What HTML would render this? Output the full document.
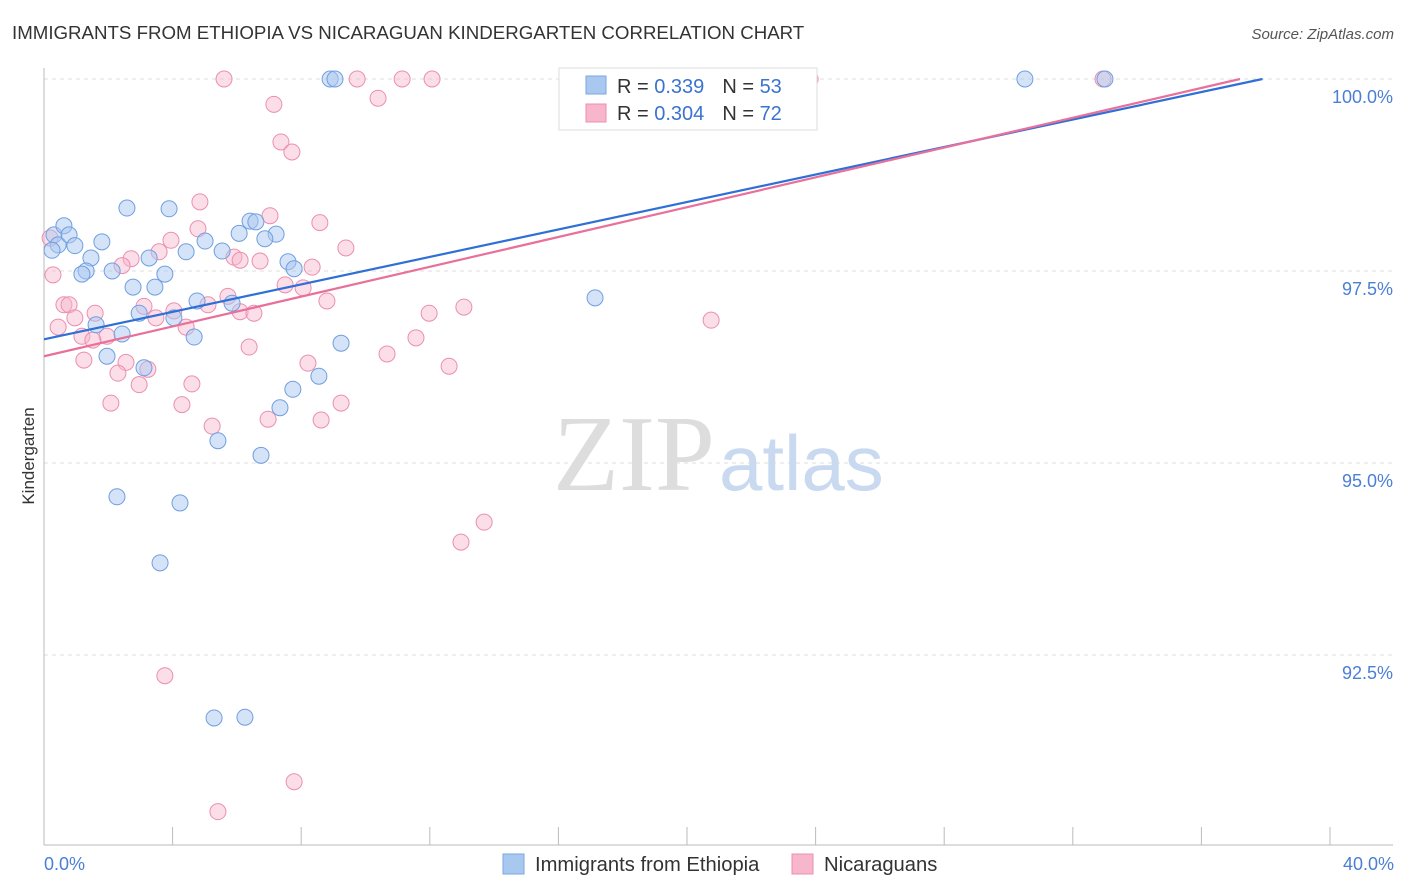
<!DOCTYPE html>
<html><head><meta charset="utf-8"><style>
body{margin:0;background:#fff;font-family:"Liberation Sans",sans-serif;}
svg{display:block}
</style></head><body>
<svg id="chart" width="1406" height="892">
<text x="12" y="39" font-size="18.7" fill="#333">IMMIGRANTS FROM ETHIOPIA VS NICARAGUAN KINDERGARTEN CORRELATION CHART</text>
<text x="1394" y="39" font-size="15" fill="#555" text-anchor="end" font-style="italic">Source: ZipAtlas.com</text>
<g id="grid"></g>
<text x="553" y="490" font-size="108" fill="#ddd" font-family="Liberation Serif,serif">ZIP</text>
<text x="719" y="490" font-size="78" fill="#c9d9f0">atlas</text>
<line x1="44" y1="68" x2="44" y2="845" stroke="#bbb"/>
<line x1="44" y1="845" x2="1393" y2="845" stroke="#bbb"/>
<text transform="translate(34,456) rotate(-90)" font-size="17" fill="#333" text-anchor="middle">Kindergarten</text>
<text x="44" y="870" font-size="18" fill="#4a7fd4">0.0%</text>
<text x="1394" y="870" font-size="18" fill="#4a7fd4" text-anchor="end">40.0%</text>
<g id="points"></g>
<g id="lines"></g>
<g>
<rect x="559" y="68" width="258" height="62" fill="#fff" stroke="#ddd"/>
<rect x="586" y="76" width="20" height="18" fill="#a9c8f0" stroke="#7aa6e0"/>
<rect x="586" y="104" width="20" height="18" fill="#f7b6cb" stroke="#eb8fb0"/>
<text x="617" y="93" font-size="20" fill="#333">R = <tspan fill="#3a73d0">0.339</tspan><tspan dx="18">N = </tspan><tspan fill="#3a73d0">53</tspan></text>
<text x="617" y="120" font-size="20" fill="#333">R = <tspan fill="#3a73d0">0.304</tspan><tspan dx="18">N = </tspan><tspan fill="#3a73d0">72</tspan></text>
</g>
<g>
<rect x="503" y="854" width="21" height="20" fill="#a9c8f0" stroke="#7aa6e0"/>
<text x="535" y="871" font-size="20.2" fill="#333">Immigrants from Ethiopia</text>
<rect x="792" y="854" width="21" height="20" fill="#f7b6cb" stroke="#eb8fb0"/>
<text x="824" y="871" font-size="20.2" fill="#333">Nicaraguans</text>
</g>
</svg>
<script>
const yTicks=[100,97.5,95,92.5];
const yTickLabels=["100.0%","97.5%","95.0%","92.5%"];
const xTicks=[0,4,8,12,16,20,24,28,32,36,40];
const blueX=[.31,.62,.44,.25,.78,.96,1.8,1.46,1.31,1.18,2.12,2.58,3.89,3.27,2.77,3.45,3.76,4.42,5.01,5.54,6.07,6.41,6.59,7.22,6.87,7.59,7.78,4.76,5.85,2.96,4.04,1.62,2.43,4.67,1.96,3.11,9.24,8.55,7.74,7.34,5.41,6.75,2.27,4.23,3.61,5.29,6.25,8.9,9.05,17.14,30.51,33.0,23.36];
const blueY=[97.97,98.09,97.84,97.77,97.97,97.83,97.88,97.67,97.5,97.46,97.5,98.32,98.31,97.67,97.29,97.29,97.46,97.75,97.89,97.76,97.99,98.15,98.14,97.98,97.92,97.62,97.53,97.11,97.08,96.95,96.89,96.8,96.68,96.64,96.39,96.24,96.56,96.13,95.96,95.72,95.29,95.1,94.56,94.48,93.7,91.68,91.69,100,100,97.15,100,100,100];
const pinkX=[5.6,9.74,11.14,12.07,21.03,23.83,32.94,10.39,7.15,7.37,7.71,4.85,7.03,8.58,4.79,3.95,9.39,3.58,2.71,2.43,5.91,6.1,6.72,8.34,.28,.19,7.5,8.06,5.72,.62,.78,3.11,5.1,8.8,13.06,4.04,1.59,3.48,6.1,6.53,11.98,20.75,.44,.96,1.18,1.96,4.42,1.52,11.57,6.38,10.67,1.24,2.55,8.21,12.6,2.3,3.23,2.96,4.6,2.08,4.29,9.24,6.97,8.62,5.23,13.69,12.97,3.76,7.78,5.41];
const pinkY=[100,100,100,100,100,100,100,99.75,99.67,99.18,99.05,98.4,98.22,98.13,98.05,97.9,97.8,97.75,97.66,97.57,97.68,97.64,97.63,97.55,97.45,97.93,97.32,97.28,97.17,97.06,97.06,97.04,97.06,97.11,97.03,96.98,96.95,96.89,96.97,96.95,96.95,96.86,96.77,96.89,96.65,96.65,96.77,96.6,96.63,96.51,96.42,96.34,96.31,96.3,96.26,96.17,96.22,96.02,96.03,95.78,95.76,95.78,95.57,95.56,95.48,94.23,93.97,92.23,90.85,90.46];
const blueLine=[[0,96.61],[37.9,100]];
const pinkLine=[[0,96.39],[37.2,100]];
const NS="http://www.w3.org/2000/svg";
const sx=v=>44+v*32.15, sy=v=>79+(100-v)*76.8;
function mk(tag,attrs,parent){const e=document.createElementNS(NS,tag);for(const k in attrs)e.setAttribute(k,attrs[k]);parent.appendChild(e);return e;}
const grid=document.getElementById('grid');
yTicks.forEach((t,i)=>{
 const l=mk('line',{x1:44,x2:1393,y1:sy(t),y2:sy(t),stroke:'#ddd','stroke-dasharray':'4,4'},grid);
 
 
 const tx=mk('text',{x:1393,y:sy(t)+24,'font-size':18,fill:'#4a7fd4','text-anchor':'end'},grid);
 tx.textContent=yTickLabels[i];
 
 
});
xTicks.forEach(t=>{
 const l=mk('line',{x1:sx(t),x2:sx(t),y1:827,y2:845,stroke:'#bbb'},grid);
 
 
});
const pts=document.getElementById('points');
pinkX.forEach((x,i)=>{
 const c=mk('circle',{cx:sx(x),cy:sy(pinkY[i]),r:8,fill:'rgba(247,182,203,0.45)',stroke:'#eb8fb0','stroke-width':1},pts);
 
 
});
blueX.forEach((x,i)=>{
 const c=mk('circle',{cx:sx(x),cy:sy(blueY[i]),r:8,fill:'rgba(169,200,240,0.5)',stroke:'#6f9fe0','stroke-width':1},pts);
 
 
});
const lines=document.getElementById('lines');
const bl=mk('line',{x1:sx(blueLine[0][0]),y1:sy(blueLine[0][1]),x2:sx(blueLine[1][0]),y2:sy(blueLine[1][1]),stroke:'#2f6fd6','stroke-width':2.2},lines);


const pl=mk('line',{x1:sx(pinkLine[0][0]),y1:sy(pinkLine[0][1]),x2:sx(pinkLine[1][0]),y2:sy(pinkLine[1][1]),stroke:'#e8709a','stroke-width':2.2},lines);


</script>
</body></html>
